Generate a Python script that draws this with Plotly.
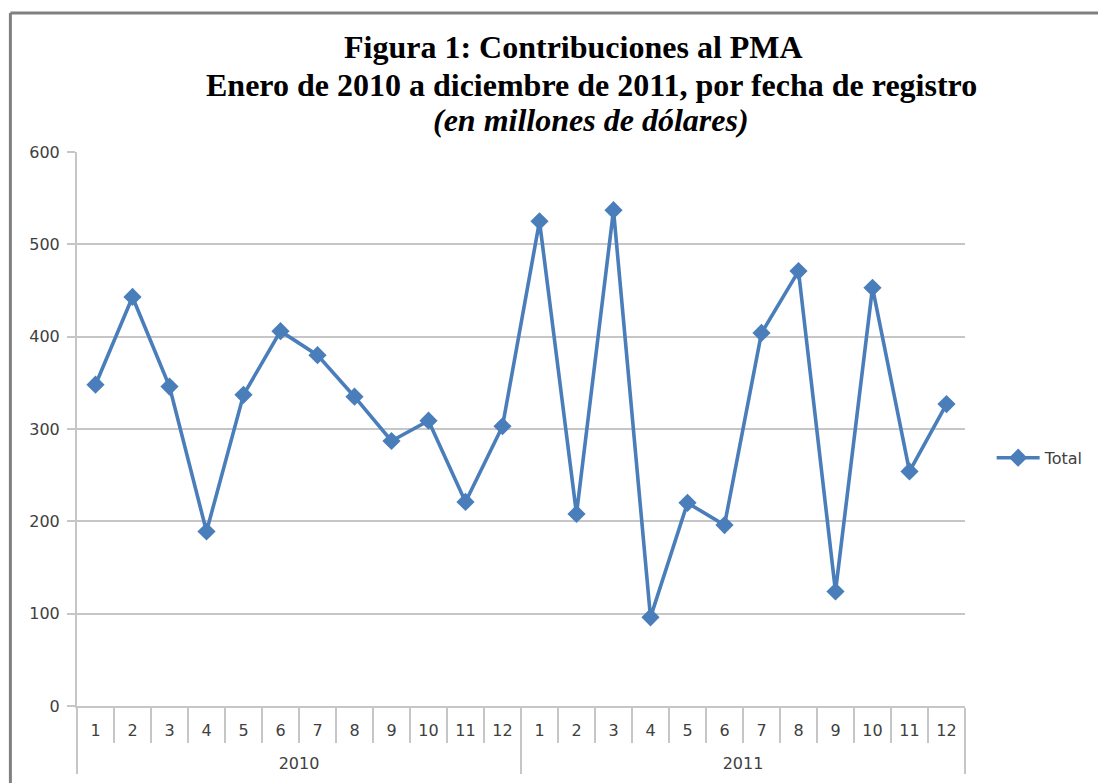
import plotly.graph_objects as go

years = ["<br>2010"] * 12 + ["<br>2011"] * 12
months = [str(m) for m in range(1, 13)] * 2
totals = [348, 443, 346, 189, 337, 406, 380, 335, 287, 309, 221, 303,
          525, 208, 537, 96, 220, 196, 404, 471, 124, 453, 254, 327]
y_ticks = [0, 100, 200, 300, 400, 500, 600]

title_lines = ["Figura 1: Contribuciones al PMA",
               "Enero de 2010 a diciembre de 2011, por fecha de registro",
               "(en millones de dólares)"]

blue = "#4a7ebb"
grid = "#c6c6c6"
txt = "#404040"
tick_font = dict(family="DejaVu Sans, sans-serif", size=16, color=txt)

fig = go.Figure()
fig.add_trace(go.Scatter(
    x=[years, months], y=totals, mode="lines+markers", name="Total",
    line=dict(color=blue, width=3.6),
    marker=dict(symbol="diamond", size=14, color=blue),
))

fig.update_layout(
    width=1098, height=775,
    margin=dict(l=69, r=141, t=144, b=77, autoexpand=False),
    paper_bgcolor="white", plot_bgcolor="white",
    font=tick_font,
    showlegend=True,
    legend=dict(x=1.03, y=0.448, xanchor="left", yanchor="middle", itemwidth=43,
                font=tick_font, bgcolor="rgba(0,0,0,0)"),
    xaxis=dict(type="multicategory", range=[-0.5, 23.5], autorange=False,
               showgrid=False, showline=True,
               linecolor=grid, linewidth=2, ticks="outside", tickson="boundaries",
               ticklen=35, tickcolor=grid, tickwidth=2, ticklabelstandoff=9,
               showdividers=True, dividercolor=grid, dividerwidth=2,
               tickfont=tick_font),
    yaxis=dict(range=[0, 600], tickvals=y_ticks, showgrid=True, gridcolor=grid,
               gridwidth=2, showline=True, linecolor=grid, linewidth=2,
               ticks="outside", ticklen=8, tickcolor=grid, tickwidth=2,
               ticklabelstandoff=4,
               zeroline=False, tickfont=tick_font),
)

ys = [1.19, 1.121, 1.058]
for i, (line, yy) in enumerate(zip(title_lines, ys)):
    fig.add_annotation(
        text=(f"<b>{line}</b>" if i < 2 else f"<b><i>{line}</i></b>"),
        x=(0.5586 if i == 0 else 0.579), y=yy, xref="paper", yref="paper",
        xanchor="center", yanchor="middle", showarrow=False,
        font=dict(family="Liberation Serif, Times New Roman, serif", size=32, color="black"))

# outer frame (top and left edges visible)
fig.add_shape(type="line", xref="paper", yref="paper", x0=-0.075, x1=1.2, y0=1.251, y1=1.251,
              line=dict(color="#808080", width=3))
fig.add_shape(type="line", xref="paper", yref="paper", x0=-0.075, x1=-0.075, y0=1.251, y1=-0.2,
              line=dict(color="#808080", width=3))

fig.write_html("out.html")
